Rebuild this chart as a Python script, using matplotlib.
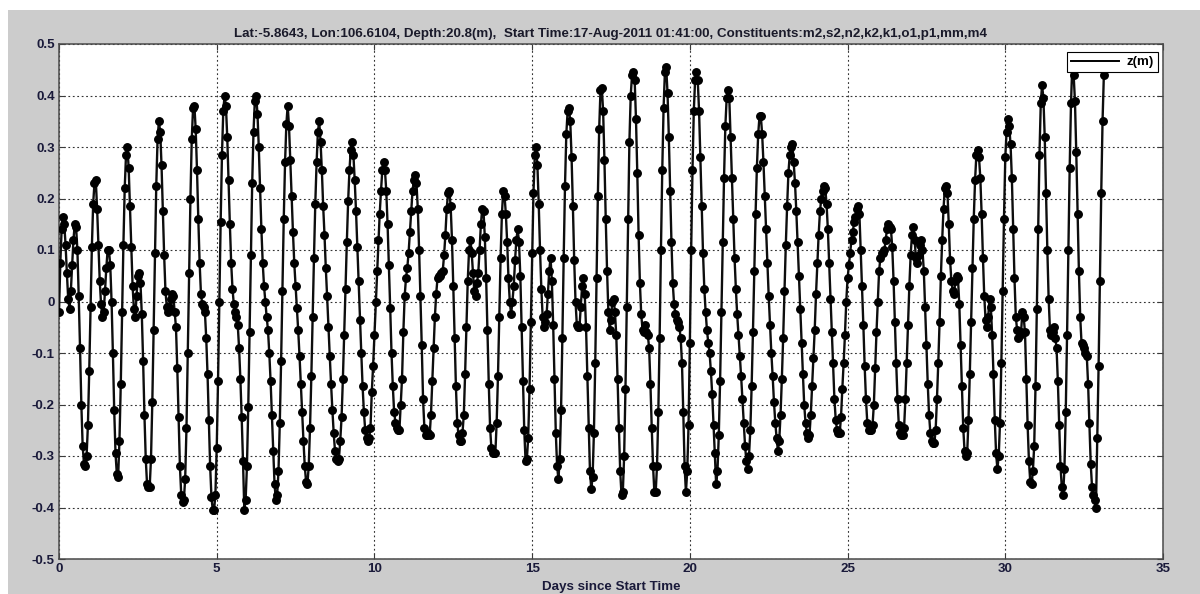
import numpy as np
import matplotlib
matplotlib.use("Agg")
import matplotlib.pyplot as plt
from matplotlib.lines import Line2D
from matplotlib.patches import Rectangle

# ---------------- data (hourly water level z(m), read cycle by cycle) ----------------
sample_hours = 1.0
tide_cycle_00 = [-0.02, 0.075, 0.14, 0.165, 0.15, 0.11, 0.055, 0.005, -0.015, 0.02, 0.07, 0.12, 0.15, 0.145, 0.10, 0.01, -0.09, -0.20, -0.28, -0.315]
tide_cycle_01 = [-0.32, -0.30, -0.24, -0.135, -0.01, 0.105, 0.19, 0.23, 0.235, 0.18, 0.11, 0.04, -0.005, -0.03, -0.02, 0.02, 0.065, 0.10, 0.10, 0.07, 0.0, -0.10, -0.21, -0.295, -0.335]
tide_cycle_02 = [-0.34, -0.27, -0.16, -0.02, 0.11, 0.22, 0.285, 0.30, 0.26, 0.185, 0.105, 0.03, -0.015, -0.03, 0.01, 0.05, 0.055, 0.035, -0.025, -0.115, -0.22, -0.305, -0.355, -0.36]
tide_cycle_03 = [-0.36, -0.305, -0.195, -0.055, 0.095, 0.225, 0.315, 0.35, 0.33, 0.265, 0.175, 0.09, 0.02, -0.01, -0.02, -0.01, 0.005, 0.015, 0.01, -0.02, -0.05, -0.13, -0.225]
tide_cycle_04 = [-0.32, -0.375, -0.39, -0.385, -0.345, -0.245, -0.10, 0.055, 0.20, 0.315, 0.375, 0.38, 0.335, 0.255, 0.16, 0.075, 0.015, -0.005, -0.01, -0.02, -0.07, -0.14, -0.23, -0.32, -0.38]
tide_cycle_05 = [-0.405, -0.405, -0.375, -0.285, -0.155, 0.0, 0.155, 0.285, 0.37, 0.40, 0.38, 0.32, 0.235, 0.15, 0.075, 0.025, -0.005, -0.02, -0.03, -0.045, -0.09, -0.15, -0.225, -0.31]
tide_cycle_06 = [-0.405, -0.385, -0.32, -0.205, -0.06, 0.09, 0.23, 0.33, 0.39, 0.40, 0.365, 0.30, 0.22, 0.14, 0.075, 0.03, 0.0, -0.03, -0.055, -0.10, -0.155, -0.22, -0.29]
tide_cycle_07 = [-0.355, -0.385, -0.375, -0.33, -0.235, -0.115, 0.02, 0.16, 0.27, 0.345, 0.38, 0.34, 0.275, 0.205, 0.135, 0.075, 0.03, -0.013, -0.056, -0.105, -0.16, -0.215, -0.27, -0.32, -0.35]
tide_cycle_08 = [-0.355, -0.32, -0.245, -0.145, -0.03, 0.085, 0.19, 0.27, 0.33, 0.35, 0.31, 0.255, 0.185, 0.13, 0.065, 0.01, -0.05, -0.105, -0.16, -0.21, -0.255, -0.29, -0.305, -0.31]
tide_cycle_09 = [-0.305, -0.27, -0.225, -0.15, -0.065, 0.025, 0.115, 0.195, 0.255, 0.295, 0.31, 0.285, 0.235, 0.175, 0.105, 0.04, -0.035, -0.1, -0.165, -0.215, -0.25, -0.265, -0.27, -0.265]
tide_cycle_10 = [-0.245, -0.175, -0.125, -0.065, 0.0, 0.06, 0.12, 0.17, 0.215, 0.255, 0.27, 0.255, 0.215, 0.15, 0.07, -0.013, -0.1, -0.165, -0.215, -0.235, -0.245, -0.25]
tide_cycle_11 = [-0.25, -0.2, -0.15, -0.06, 0.01, 0.045, 0.065, 0.095, 0.135, 0.175, 0.215, 0.235, 0.245, 0.23, 0.18, 0.1, 0.01, -0.085, -0.19, -0.245, -0.26, -0.26, -0.255]
tide_cycle_12 = [-0.26, -0.22, -0.155, -0.09, -0.03, 0.015, 0.045, 0.05, 0.05, 0.055, 0.06, 0.09, 0.13, 0.18, 0.21, 0.215, 0.185, 0.12, 0.03, -0.07, -0.165, -0.235, -0.26, -0.27]
tide_cycle_13 = [-0.27, -0.255, -0.22, -0.14, -0.05, 0.04, 0.10, 0.12, 0.095, 0.055, 0.02, 0.01, 0.035, 0.055, 0.10, 0.15, 0.18, 0.175, 0.125, 0.045, -0.055, -0.16, -0.245, -0.285, -0.295]
tide_cycle_14 = [-0.295, -0.295, -0.235, -0.145, -0.03, 0.085, 0.17, 0.215, 0.205, 0.17, 0.115, 0.045, 0.0, -0.025, 0.0, 0.03, 0.08, 0.12, 0.14, 0.115, 0.05, -0.05, -0.155, -0.25]
tide_cycle_15 = [-0.31, -0.305, -0.265, -0.17, -0.04, 0.095, 0.21, 0.285, 0.30, 0.265, 0.19, 0.10, 0.025, -0.03, -0.05, -0.04, -0.025, 0.015, 0.06, 0.085, 0.04, -0.045, -0.15, -0.255, -0.32]
tide_cycle_16 = [-0.345, -0.305, -0.21, -0.07, 0.085, 0.225, 0.325, 0.37, 0.375, 0.35, 0.28, 0.185, 0.08, 0.0, -0.045, -0.05, -0.05, -0.01, 0.03, 0.045, 0.015, -0.05, -0.145, -0.245, -0.33]
tide_cycle_17 = [-0.365, -0.34, -0.255, -0.12, 0.045, 0.205, 0.335, 0.41, 0.415, 0.37, 0.275, 0.16, 0.06, -0.02, -0.055, -0.035, 0.0, 0.005, -0.02, -0.065, -0.15, -0.245, -0.33]
tide_cycle_18 = [-0.375, -0.37, -0.30, -0.17, -0.01, 0.16, 0.31, 0.40, 0.44, 0.445, 0.43, 0.355, 0.25, 0.13, 0.035, -0.025, -0.055, -0.06, -0.045, -0.06, -0.065, -0.09, -0.16, -0.245, -0.32]
tide_cycle_19 = [-0.37, -0.37, -0.32, -0.215, -0.07, 0.10, 0.255, 0.375, 0.445, 0.455, 0.405, 0.32, 0.215, 0.115, 0.035, -0.005, -0.025, -0.035, -0.04, -0.05, -0.07, -0.12, -0.215, -0.32]
tide_cycle_20 = [-0.37, -0.33, -0.24, -0.08, 0.1, 0.255, 0.37, 0.43, 0.445, 0.43, 0.37, 0.28, 0.185, 0.095, 0.025, -0.02, -0.055, -0.08, -0.10, -0.135, -0.18, -0.24, -0.295]
tide_cycle_21 = [-0.355, -0.33, -0.26, -0.155, -0.02, 0.115, 0.24, 0.34, 0.395, 0.41, 0.395, 0.32, 0.24, 0.16, 0.085, 0.025, -0.025, -0.065, -0.105, -0.145, -0.19, -0.235, -0.28, -0.31]
tide_cycle_22 = [-0.325, -0.30, -0.25, -0.165, -0.06, 0.06, 0.17, 0.26, 0.325, 0.36, 0.36, 0.325, 0.27, 0.205, 0.14, 0.075, 0.01, -0.045, -0.10, -0.145, -0.195, -0.235, -0.265]
tide_cycle_23 = [-0.29, -0.27, -0.22, -0.15, -0.07, 0.02, 0.11, 0.185, 0.25, 0.285, 0.30, 0.305, 0.27, 0.23, 0.175, 0.115, 0.05, -0.015, -0.08, -0.14, -0.2, -0.235, -0.255]
tide_cycle_24 = [-0.265, -0.26, -0.22, -0.165, -0.11, -0.055, 0.015, 0.075, 0.13, 0.175, 0.2, 0.215, 0.225, 0.22, 0.19, 0.14, 0.075, 0.005, -0.06, -0.12, -0.19, -0.23, -0.25, -0.255]
tide_cycle_25 = [-0.255, -0.225, -0.17, -0.12, -0.065, 0.0, 0.045, 0.07, 0.095, 0.12, 0.135, 0.155, 0.165, 0.18, 0.185, 0.17, 0.1, 0.03, -0.045, -0.125, -0.19, -0.235, -0.25, -0.25]
tide_cycle_26 = [-0.25, -0.24, -0.2, -0.13, -0.06, 0.0, 0.06, 0.085, 0.095, 0.095, 0.1, 0.12, 0.14, 0.15, 0.145, 0.14, 0.105, 0.04, -0.04, -0.12, -0.19, -0.24, -0.255, -0.26]
tide_cycle_27 = [-0.26, -0.245, -0.19, -0.12, -0.045, 0.03, 0.09, 0.13, 0.145, 0.12, 0.085, 0.075, 0.09, 0.11, 0.12, 0.1, 0.06, -0.01, -0.085, -0.16, -0.22, -0.255, -0.27, -0.275]
tide_cycle_28 = [-0.275, -0.25, -0.19, -0.12, -0.04, 0.05, 0.12, 0.18, 0.22, 0.225, 0.21, 0.15, 0.08, 0.04, 0.02, 0.015, 0.04, 0.05, 0.045, -0.005, -0.085, -0.165, -0.245, -0.29]
tide_cycle_29 = [-0.30, -0.295, -0.23, -0.14, -0.04, 0.065, 0.16, 0.235, 0.285, 0.295, 0.28, 0.24, 0.17, 0.085, 0.01, -0.035, -0.05, -0.03, 0.005, -0.01, -0.065, -0.14, -0.23, -0.295]
tide_cycle_30 = [-0.325, -0.30, -0.235, -0.12, 0.02, 0.16, 0.28, 0.33, 0.355, 0.34, 0.305, 0.24, 0.14, 0.045, -0.03, -0.055, -0.07, -0.065, -0.06, -0.02, -0.03, -0.06, -0.15, -0.24, -0.31, -0.35]
tide_cycle_31 = [-0.355, -0.33, -0.28, -0.165, -0.015, 0.14, 0.285, 0.385, 0.42, 0.395, 0.32, 0.21, 0.10, 0.005, -0.055, -0.065, -0.06, -0.05, -0.07, -0.09, -0.155, -0.24, -0.32, -0.36]
tide_cycle_32 = [-0.375, -0.325, -0.215, -0.065, 0.10, 0.26, 0.385, 0.46, 0.44, 0.39, 0.29, 0.17, 0.06, -0.03, -0.08, -0.085, -0.09, -0.1, -0.105, -0.16, -0.235, -0.315, -0.36, -0.375, -0.385]
tide_cycle_33 = [-0.40, -0.265, -0.125, 0.04, 0.21, 0.35, 0.44]

cycles = [tide_cycle_00, tide_cycle_01, tide_cycle_02, tide_cycle_03, tide_cycle_04,
          tide_cycle_05, tide_cycle_06, tide_cycle_07, tide_cycle_08, tide_cycle_09,
          tide_cycle_10, tide_cycle_11, tide_cycle_12, tide_cycle_13, tide_cycle_14,
          tide_cycle_15, tide_cycle_16, tide_cycle_17, tide_cycle_18, tide_cycle_19,
          tide_cycle_20, tide_cycle_21, tide_cycle_22, tide_cycle_23, tide_cycle_24,
          tide_cycle_25, tide_cycle_26, tide_cycle_27, tide_cycle_28, tide_cycle_29,
          tide_cycle_30, tide_cycle_31, tide_cycle_32, tide_cycle_33]

x_ticks = [0, 5, 10, 15, 20, 25, 30, 35]
y_ticks = [-0.5, -0.4, -0.3, -0.2, -0.1, 0.0, 0.1, 0.2, 0.3, 0.4, 0.5]
y_tick_labels = ["-0.5", "-0.4", "-0.3", "-0.2", "-0.1", "0", "0.1", "0.2", "0.3", "0.4", "0.5"]
title_text = ("Lat:-5.8643, Lon:106.6104, Depth:20.8(m),  Start Time:17-Aug-2011 01:41:00, "
              "Constituents:m2,s2,n2,k2,k1,o1,p1,mm,m4")
x_label = "Days since Start Time"
legend_label = "z(m)"

# ---------------- build series ----------------
z = np.concatenate([np.asarray(c, dtype=float) for c in cycles])
t_days = np.arange(len(z)) * sample_hours / 24.0

# ---------------- figure ----------------
plt.rcParams['font.family'] = ['Liberation Sans', 'DejaVu Sans']
plt.rcParams['font.weight'] = 'bold'

FS = 9.6
W, H = 1200, 594
fig = plt.figure(figsize=(W / 100, H / 100), dpi=100, facecolor='white')
fig.patches.append(Rectangle((8 / W, 0), 1 - 8 / W, 1 - 10 / H, transform=fig.transFigure,
                             facecolor='#cccccc', edgecolor='none', zorder=-10))

ax_l, ax_r, ax_t, ax_b = 59, 1163, 44, 559
ax = fig.add_axes([ax_l / W, 1 - ax_b / H, (ax_r - ax_l) / W, (ax_b - ax_t) / H])
ax.set_facecolor('white')

ax.plot(t_days, z, '-o', color='#0d0d0d', lw=1.7, ms=5.4, mfc='black', mec='black', zorder=3)

ax.set_xlim(0, 35)
ax.set_ylim(-0.5, 0.5)
ax.set_xticks(x_ticks)
ax.set_xticklabels([str(v) for v in x_ticks])
ax.set_yticks(y_ticks)
ax.set_yticklabels(y_tick_labels)

ax.grid(True, color='#333333', linestyle=(0, (1.6, 2.4)), linewidth=0.8)
ax.set_axisbelow(True)

for sp in ax.spines.values():
    sp.set_color('#4a4a4a')
    sp.set_linewidth(1.1)

ax.tick_params(axis='both', which='both', direction='in', length=4, width=0.8,
               color='#3a3a3a', top=True, right=True, labelsize=FS,
               labelcolor='#1a1a3a', pad=3)
for lab in ax.get_xticklabels() + ax.get_yticklabels():
    lab.set_fontweight('bold')

ax.set_title(title_text, fontsize=FS, fontweight='bold', pad=5, color='#1a1a2a')
ax.set_xlabel(x_label, fontsize=FS, fontweight='bold', labelpad=4, color='#1a1a3a')

handle = Line2D([], [], color='black', lw=1.4)
leg = ax.legend([handle], [legend_label], loc='upper right',
                bbox_to_anchor=((1158 - ax_l) / (ax_r - ax_l), (ax_b - 52) / (ax_b - ax_t)),
                borderaxespad=0, fancybox=False, framealpha=1, edgecolor='black',
                handlelength=3.6, handletextpad=0.6, borderpad=0.3,
                prop={'weight': 'bold', 'size': FS})
leg.get_frame().set_linewidth(0.8)
leg.set_zorder(10)

fig.savefig('out.png', dpi=100, facecolor=fig.get_facecolor())
